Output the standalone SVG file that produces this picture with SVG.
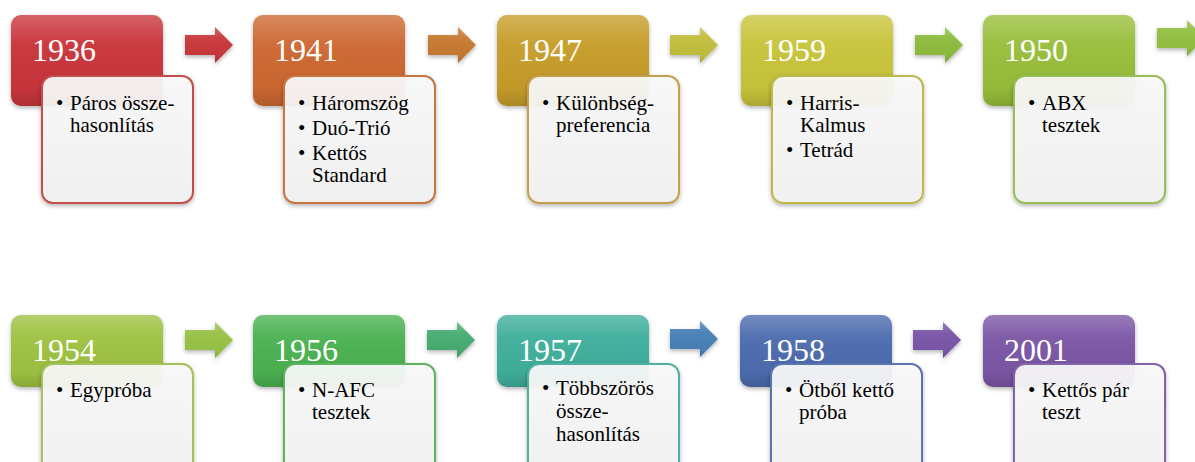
<svg xmlns="http://www.w3.org/2000/svg" width="1195" height="462" viewBox="0 0 1195 462">
<defs>
<linearGradient id="gloss" x1="0" y1="0" x2="0" y2="1">
<stop offset="0" stop-color="#fff" stop-opacity="0.22"/>
<stop offset="0.3" stop-color="#fff" stop-opacity="0.04"/>
<stop offset="0.8" stop-color="#000" stop-opacity="0.02"/>
<stop offset="1" stop-color="#000" stop-opacity="0.14"/>
</linearGradient>
<linearGradient id="boxg" x1="0" y1="0" x2="0" y2="1">
<stop offset="0" stop-color="#fafafa"/>
<stop offset="1" stop-color="#f2f2f2"/>
</linearGradient>
<filter id="sh" x="-10%" y="-10%" width="120%" height="130%">
<feDropShadow dx="0" dy="2" stdDeviation="2" flood-color="#000" flood-opacity="0.3"/>
</filter>
<path id="arr" d="M0,-10 H30 V-18 L48,0 L30,18 V10 H0 Z"/>
</defs>
<style>
.year{font-family:"Liberation Serif","Times New Roman",serif;font-size:32px;fill:#fff}
.item{font-family:"Liberation Serif","Times New Roman",serif;font-size:21px;fill:#000}
.box{fill:url(#boxg);fill-opacity:0.92;stroke-width:2;filter:url(#sh)}
.head{filter:url(#sh)}
.gl{fill:url(#gloss)}
</style>

<g id="connectors">
<g transform="translate(185,45)"><use href="#arr" fill="#C9373A" filter="url(#sh)"/><use href="#arr" class="gl"/></g>
<g transform="translate(428,45)"><use href="#arr" fill="#C77A33" filter="url(#sh)"/><use href="#arr" class="gl"/></g>
<g transform="translate(670,45)"><use href="#arr" fill="#C2BE3C" filter="url(#sh)"/><use href="#arr" class="gl"/></g>
<g transform="translate(915,45)"><use href="#arr" fill="#8DBB3E" filter="url(#sh)"/><use href="#arr" class="gl"/></g>
<g transform="translate(1157,38)"><use href="#arr" fill="#93C043" filter="url(#sh)"/><use href="#arr" class="gl"/></g>
<g transform="translate(185,340)"><use href="#arr" fill="#98C247" filter="url(#sh)"/><use href="#arr" class="gl"/></g>
<g transform="translate(427,340)"><use href="#arr" fill="#46AD72" filter="url(#sh)"/><use href="#arr" class="gl"/></g>
<g transform="translate(670,339)"><use href="#arr" fill="#4A80B6" filter="url(#sh)"/><use href="#arr" class="gl"/></g>
<g transform="translate(913,340)"><use href="#arr" fill="#7A56A8" filter="url(#sh)"/><use href="#arr" class="gl"/></g>
</g>

<g id="n1936" transform="translate(11,15)">
<rect class="head" width="152" height="91" rx="10" fill="#C9363A"/>
<rect class="gl" width="152" height="91" rx="10"/>
<text class="year" x="21" y="46">1936</text>
<rect class="box" x="31" y="61" width="151" height="127" rx="11" stroke="#C24F4C"/>
<text class="item"><tspan x="45" y="95">•</tspan><tspan x="59" y="95">Páros össze-</tspan><tspan x="59" y="117">hasonlítás</tspan></text>
</g>

<g id="n1941" transform="translate(253,15)">
<rect class="head" width="152" height="91" rx="10" fill="#CD6830"/>
<rect class="gl" width="152" height="91" rx="10"/>
<text class="year" x="21" y="46">1941</text>
<rect class="box" x="31" y="61" width="151" height="127" rx="11" stroke="#C9743F"/>
<text class="item"><tspan x="45" y="95">•</tspan><tspan x="59" y="95">Háromszög</tspan><tspan x="45" y="120">•</tspan><tspan x="59" y="120">Duó-Trió</tspan><tspan x="45" y="144.5">•</tspan><tspan x="59" y="144.5">Kettős</tspan><tspan x="59" y="167">Standard</tspan></text>
</g>

<g id="n1947" transform="translate(497,15)">
<rect class="head" width="152" height="91" rx="10" fill="#C79D2C"/>
<rect class="gl" width="152" height="91" rx="10"/>
<text class="year" x="21" y="46">1947</text>
<rect class="box" x="31" y="61" width="151" height="127" rx="11" stroke="#C4A04C"/>
<text class="item"><tspan x="45" y="95">•</tspan><tspan x="59" y="95">Különbség-</tspan><tspan x="59" y="117">preferencia</tspan></text>
</g>

<g id="n1959" transform="translate(741,15)">
<rect class="head" width="152" height="91" rx="10" fill="#C8C43A"/>
<rect class="gl" width="152" height="91" rx="10"/>
<text class="year" x="21" y="46">1959</text>
<rect class="box" x="31" y="61" width="151" height="127" rx="11" stroke="#BDB94C"/>
<text class="item"><tspan x="45" y="95">•</tspan><tspan x="59" y="95">Harris-</tspan><tspan x="59" y="117">Kalmus</tspan><tspan x="45" y="142">•</tspan><tspan x="59" y="142">Tetrád</tspan></text>
</g>

<g id="n1950" transform="translate(983,15)">
<rect class="head" width="152" height="91" rx="10" fill="#98BE3A"/>
<rect class="gl" width="152" height="91" rx="10"/>
<text class="year" x="21" y="46">1950</text>
<rect class="box" x="31" y="61" width="151" height="127" rx="11" stroke="#9BBD55"/>
<text class="item"><tspan x="45" y="95">•</tspan><tspan x="59" y="95">ABX</tspan><tspan x="59" y="117">tesztek</tspan></text>
</g>

<g id="n1954" transform="translate(11,315)">
<rect class="head" width="152" height="72" rx="10" fill="#9EC242"/>
<rect class="gl" width="152" height="72" rx="10"/>
<text class="year" x="21" y="46">1954</text>
<rect class="box" x="31" y="49" width="151" height="127" rx="11" stroke="#A3C25C"/>
<text class="item"><tspan x="45" y="82">•</tspan><tspan x="59" y="82">Egypróba</tspan></text>
</g>

<g id="n1956" transform="translate(253,315)">
<rect class="head" width="152" height="72" rx="10" fill="#4CB251"/>
<rect class="gl" width="152" height="72" rx="10"/>
<text class="year" x="21" y="46">1956</text>
<rect class="box" x="31" y="49" width="151" height="127" rx="11" stroke="#5BB460"/>
<text class="item"><tspan x="45" y="82">•</tspan><tspan x="59" y="82">N-AFC</tspan><tspan x="59" y="104">tesztek</tspan></text>
</g>

<g id="n1957" transform="translate(497,315)">
<rect class="head" width="152" height="72" rx="10" fill="#41AF9C"/>
<rect class="gl" width="152" height="72" rx="10"/>
<text class="year" x="21" y="46">1957</text>
<rect class="box" x="31" y="49" width="151" height="127" rx="11" stroke="#4FB0A2"/>
<text class="item"><tspan x="45" y="80">•</tspan><tspan x="59" y="80">Többszörös</tspan><tspan x="59" y="103">össze-</tspan><tspan x="59" y="125.5">hasonlítás</tspan></text>
</g>

<g id="n1958" transform="translate(740,315)">
<rect class="head" width="152" height="72" rx="10" fill="#4D6CAE"/>
<rect class="gl" width="152" height="72" rx="10"/>
<text class="year" x="21" y="46">1958</text>
<rect class="box" x="31" y="49" width="151" height="127" rx="11" stroke="#5874B0"/>
<text class="item"><tspan x="45" y="82">•</tspan><tspan x="59" y="82">Ötből kettő</tspan><tspan x="59" y="104">próba</tspan></text>
</g>

<g id="n2001" transform="translate(983,315)">
<rect class="head" width="152" height="72" rx="10" fill="#7B57A6"/>
<rect class="gl" width="152" height="72" rx="10"/>
<text class="year" x="21" y="46">2001</text>
<rect class="box" x="31" y="49" width="151" height="127" rx="11" stroke="#8264AA"/>
<text class="item"><tspan x="45" y="82">•</tspan><tspan x="59" y="82">Kettős pár</tspan><tspan x="59" y="104">teszt</tspan></text>
</g>
</svg>
